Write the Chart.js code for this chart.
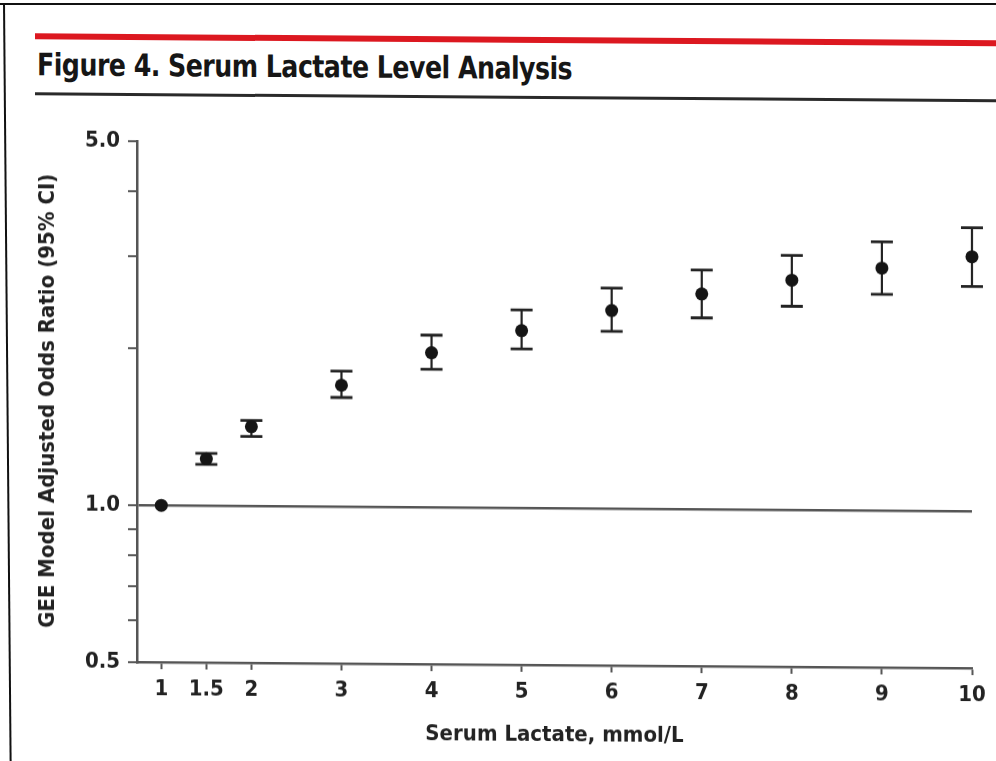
<!DOCTYPE html>
<html>
<head>
<meta charset="utf-8">
<title>Serum Lactate Level Analysis</title>
<script src="https://cdn.jsdelivr.net/npm/chart.js@4.4.1/dist/chart.umd.min.js"></script>
<style>
  html, body { margin: 0; padding: 0; background: #fff; overflow: hidden; }
  #frame-top { position: absolute; left: 0; top: 3px; width: 996px; height: 2px; background: #111; }
  #frame-left { position: absolute; left: 3px; top: 3px; width: 2px; height: 758px; background: #111;
                transform: skewX(0.5deg); transform-origin: 0 0; }
  #sheet { position: absolute; left: 0; top: 0; width: 996px; height: 761px;
           transform: skewY(0.42deg); transform-origin: 0 0; }
  .rule { position: absolute; left: 35px; right: 0; }
  .rule.red { top: 33px; height: 6px; background: #dc1820; }
  .rule.black { top: 92px; height: 3px; background: #2a2a2a; }
  #fig-title { position: absolute; left: 37px; top: 46px; margin: 0; white-space: nowrap;
               font: bold 31px "DejaVu Sans Condensed", "DejaVu Sans", sans-serif; color: #161616;
               transform-origin: 0 50%; letter-spacing: -0.6px; }
  #plot { position: absolute; left: 0; top: 0; width: 996px; height: 761px; }
</style>
</head>
<body>
<div id="frame-top"></div>
<div id="frame-left"></div>
<div id="sheet">
  <div class="rule red"></div>
  <h1 id="fig-title">Figure 4. Serum Lactate Level Analysis</h1>
  <div class="rule black"></div>
  <div id="plot"><canvas id="lactateChart"></canvas></div>
</div>
<script>
// serum lactate (mmol/L) and GEE adjusted odds ratios with 95% CI
var lactate = [1, 1.5, 2, 3, 4, 5, 6, 7, 8, 9, 10];
var oddsRatio = [1.00, 1.23, 1.42, 1.71, 1.98, 2.19, 2.40, 2.59, 2.76, 2.92, 3.08];
var ciLow = [null, 1.20, 1.36, 1.62, 1.84, 2.02, 2.19, 2.33, 2.46, 2.60, 2.70];
var ciHigh = [null, 1.26, 1.46, 1.82, 2.14, 2.40, 2.65, 2.88, 3.08, 3.28, 3.50];

var xTicks = [1, 1.5, 2, 3, 4, 5, 6, 7, 8, 9, 10];
var yTicks = [0.5, 0.6, 0.7, 0.8, 0.9, 1, 2, 3, 4, 5];
var yLabelled = [0.5, 1, 5];

// squeeze the heading to the width of the rule layout
var heading = document.getElementById('fig-title');
heading.style.transform = 'scaleX(' + (535 / heading.offsetWidth) + ')';

var labelFont = '"DejaVu Sans Condensed", "DejaVu Sans", sans-serif';
var ink = '#222';
var axisGray = '#555';

// vertical CI whiskers with caps, drawn under the dots
var errorBars = {
  id: 'errorBars',
  beforeDatasetsDraw: function(chart) {
    var ctx = chart.ctx, x = chart.scales.x, y = chart.scales.y;
    ctx.save();
    ctx.strokeStyle = '#222';
    lactate.forEach(function(v, i) {
      if (ciLow[i] == null) return;
      var px = x.getPixelForValue(v);
      var top = y.getPixelForValue(ciHigh[i]);
      var bot = y.getPixelForValue(ciLow[i]);
      ctx.lineWidth = 2.2;
      ctx.beginPath();
      ctx.moveTo(px, top); ctx.lineTo(px, bot);
      ctx.stroke();
      ctx.lineWidth = 2.8;
      ctx.beginPath();
      ctx.moveTo(px - 11, top); ctx.lineTo(px + 11, top);
      ctx.moveTo(px - 11, bot); ctx.lineTo(px + 11, bot);
      ctx.stroke();
    });
    ctx.restore();
  }
};

var chart = new Chart(document.getElementById('lactateChart'), {
  type: 'scatter',
  data: {
    datasets: [{
      data: lactate.map(function(v, i) { return { x: v, y: oddsRatio[i] }; }),
      pointRadius: 6.5,
      pointBackgroundColor: '#151515',
      pointBorderWidth: 0,
      clip: false
    }]
  },
  plugins: [errorBars],
  options: {
    responsive: true,
    maintainAspectRatio: false,
    animation: false,
    layout: { padding: { left: 0, top: 140, right: 24, bottom: 0 } },
    plugins: {
      legend: { display: false },
      tooltip: { enabled: false }
    },
    scales: {
      x: {
        type: 'linear',
        min: 0.73,
        max: 10,
        afterBuildTicks: function(scale) {
          scale.ticks = xTicks.map(function(v) { return { value: v }; });
        },
        afterFit: function(scale) { scale.height = 100; },
        border: { display: true, color: axisGray, width: 2.5 },
        grid: { drawOnChartArea: false, drawTicks: true, tickLength: 7, tickColor: axisGray, tickWidth: 2 },
        ticks: {
          padding: 7,
          color: ink,
          maxRotation: 0,
          autoSkip: false,
          font: { family: labelFont, size: 22, weight: 'bold' },
          callback: function(value) { return String(value); }
        },
        title: {
          display: true,
          text: 'Serum Lactate, mmol/L',
          color: ink,
          font: { family: labelFont, size: 22, weight: 'bold' },
          padding: { top: 0, bottom: 17 }
        }
      },
      y: {
        type: 'logarithmic',
        min: 0.5,
        max: 5,
        afterBuildTicks: function(scale) {
          scale.ticks = yTicks.map(function(v) { return { value: v }; });
        },
        afterFit: function(scale) { scale.width = 137; },
        border: { display: true, color: axisGray, width: 2.5 },
        grid: {
          drawOnChartArea: true,
          drawTicks: true,
          tickLength: 9,
          tickColor: axisGray,
          tickWidth: 2,
          lineWidth: 2.5,
          color: function(c) {
            return c.tick && c.tick.value === 1 ? axisGray : 'rgba(0,0,0,0)';
          }
        },
        ticks: {
          padding: 8,
          color: ink,
          autoSkip: false,
          font: { family: labelFont, size: 22, weight: 'bold' },
          callback: function(value) {
            return yLabelled.indexOf(value) >= 0 ? value.toFixed(1) : '';
          }
        },
        title: {
          display: true,
          text: 'GEE Model Adjusted Odds Ratio (95% CI)',
          color: ink,
          font: { family: labelFont, size: 22, weight: 'bold' },
          padding: { top: 35, bottom: 0 }
        }
      }
    }
  }
});
</script>
</body>
</html>
